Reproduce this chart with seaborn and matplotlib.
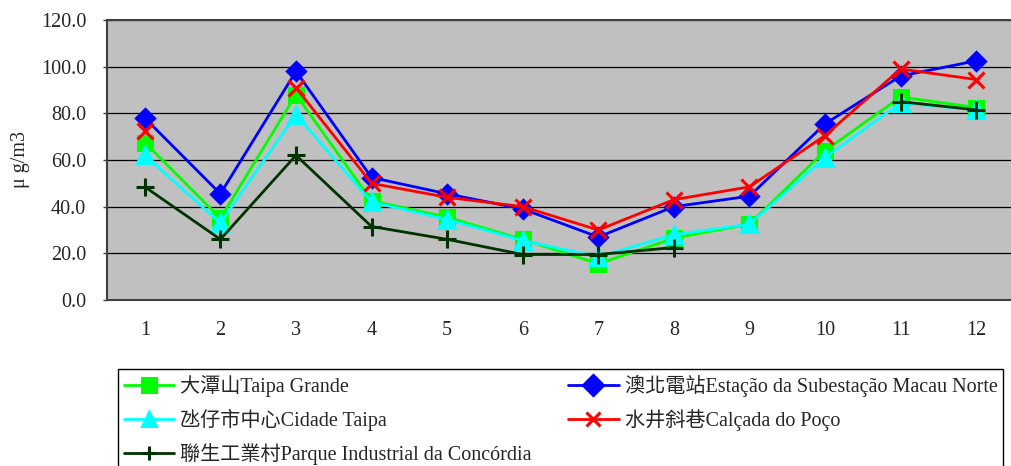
import numpy as np
import pandas as pd
import seaborn as sns
import matplotlib.pyplot as plt
from matplotlib.ticker import FixedLocator

sns.set_style('white')
plt.rcParams['font.family'] = ['Liberation Serif', 'Noto Sans CJK TC', 'DejaVu Sans']

# monthly values (ug/m3)
months = [1, 2, 3, 4, 5, 6, 7, 8, 9, 10, 11, 12]
taipa_grande = [67.5, 35, 88, 42.5, 35.5, 26, 15.5, 26.5, 32.5, 64, 87, 82.5]
macau_norte = [78, 45.5, 98, 52.5, 45.5, 39, 27, 40, 44.5, 75.5, 96, 102.5]
cidade_taipa = [62, 33, 79.5, 42, 34.5, 25.5, 18.5, 28, 32.5, 61, 84.5, 81.5]
poco = [72.5, np.nan, 91, 50, 44, 40, 30, 43, 48.5, 70.5, 99, 94.5]
concordia = [48.5, 26, 62, 31.5, 26, 19.5, 19.5, 22.5, np.nan, np.nan, 85, 81.5]

stations = ['大潭山Taipa Grande',
            '澳北電站Estação da Subestação Macau Norte',
            '氹仔市中心Cidade Taipa',
            '水井斜巷Calçada do Poço',
            '聯生工業村Parque Industrial da Concórdia']
series = [taipa_grande, macau_norte, cidade_taipa, poco, concordia]
colors = ['#00FF00', '#0000FF', '#00FFFF', '#FF0000', '#003300']
markers = ['s', 'D', '^', 'x', '+']
msizes = [10, 9, 11, 11, 13]

fig = plt.figure(figsize=(10.12, 4.66), dpi=100)
ax = fig.add_axes([107 / 1012, 1 - 300 / 466, (1014 - 107) / 1012, 280 / 466])
ax.set_facecolor('#C0C0C0')

handles = {}
for name, vals, c, m, ms in zip(stations, series, colors, markers, msizes):
    d = pd.DataFrame({'month': months, 'value': vals})
    # break the line where a month is missing
    d['seg'] = d['value'].isna().cumsum()
    d = d.dropna()
    n0 = len(ax.lines)
    sns.lineplot(data=d, x='month', y='value', units='seg', estimator=None,
                 color=c, marker=m, markersize=ms, markeredgecolor=c,
                 markeredgewidth=2.2, linewidth=2, legend=False, ax=ax)
    handles[name] = ax.lines[n0]

ax.set_xlim(0.5, 12.5)
ax.set_ylim(0, 120)
ax.set_xticks(months)
ax.set_xticklabels([str(m) for m in months])
ax.xaxis.set_minor_locator(FixedLocator(np.arange(1.5, 12, 1)))
ax.set_yticks(np.arange(0, 121, 20))
ax.set_yticklabels([f'{v:.1f}' for v in np.arange(0, 121, 20)])
ax.yaxis.grid(True, color='black', linewidth=0.9)
ax.set_axisbelow(True)
ax.tick_params(axis='x', which='major', length=0, pad=15, labelsize=14.5)
ax.tick_params(axis='x', which='minor', direction='in', length=5, width=1.2,
               color='#404040')
ax.tick_params(axis='y', direction='out', length=3, width=1, color='#404040',
               pad=12, labelsize=14.5, left=True)
for s in ax.spines.values():
    s.set_color('#404040')
    s.set_linewidth(1.5)
ax.set_xlabel('')
ax.set_ylabel('μ g/m3', fontsize=14.5, labelpad=8)

order = [0, 2, 4, 1, 3]
leg = fig.legend([handles[stations[i]] for i in order], [stations[i] for i in order],
                 loc='upper left', bbox_to_anchor=(118 / 1012, 1 - 369 / 466),
                 bbox_transform=fig.transFigure, ncol=2, fontsize=14.5,
                 frameon=True, fancybox=False, framealpha=1, edgecolor='black',
                 borderaxespad=0, borderpad=0.3, handlelength=2.5,
                 handletextpad=0.3, labelspacing=0.58, columnspacing=1.8)
leg.get_frame().set_linewidth(1)
for h in leg.legend_handles:
    h.set_markersize(10)

fig.savefig('out.png', dpi=100)
